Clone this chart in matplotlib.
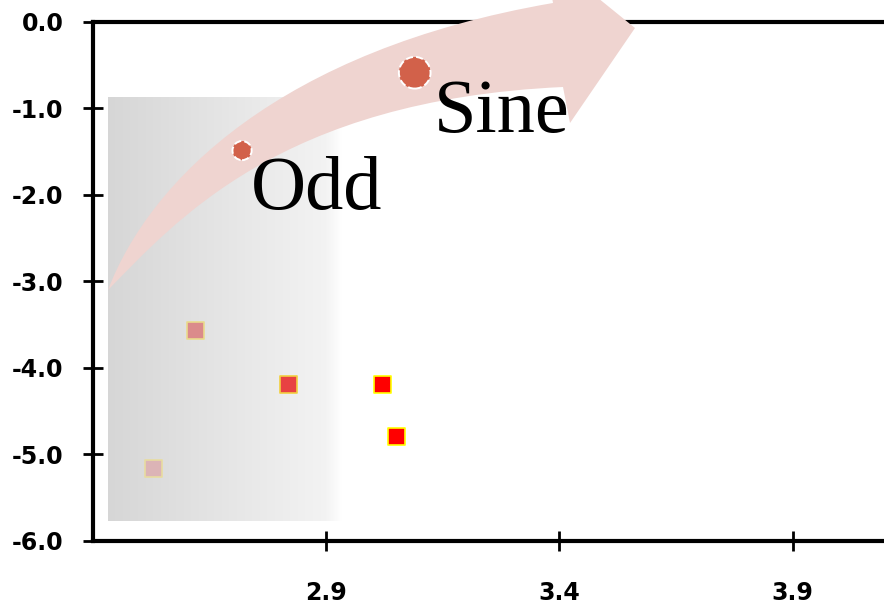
import numpy as np
import matplotlib
matplotlib.use('Agg')
import matplotlib.pyplot as plt
from matplotlib.path import Path
from matplotlib.patches import PathPatch

# %%
# values
square_x = [2.53, 2.62, 2.82, 3.02, 3.05]
square_y = [-5.16, -3.57, -4.19, -4.19, -4.79]
circle_x = [2.72, 3.09]
circle_y = [-1.49, -0.59]
label_text = ['Odd', 'Sine']
label_x = [2.738, 3.132]
label_y = [-2.17, -1.28]
xtick_vals = [2.9, 3.4, 3.9]
ytick_vals = [0.0, -1.0, -2.0, -3.0, -4.0, -5.0, -6.0]

# styles
square_face = ['#dcb4b6', '#db8b8b', '#e84242', '#ff0000', '#ff0000']
square_edge = ['#e8dca0', '#eadb8c', '#f2d040', '#ffff00', '#ffff00']
circle_size = [190, 520]

W, H = 884, 608
fig = plt.figure(figsize=(W / 100, H / 100), dpi=100)
ax = fig.add_axes([92.7 / W, (H - 540.7) / H, 1.0, (540.7 - 21.7) / H])
ax.set_xlim(2.4, 2.4 + W / 466.7)
ax.set_ylim(-6.0, 0.0)

# gray gradient box behind the points
grad = np.concatenate([np.linspace(0.84, 0.95, 90), np.linspace(0.95, 1.0, 8)])
img = np.dstack([grad, grad, grad]).repeat(2, axis=0)
ax.imshow(img, extent=(2.433, 2.936, -5.777, -0.882), aspect='auto',
          interpolation='bilinear', zorder=1)

# curved arrow (pixel coords of the picture -> figure fraction)
def px(x, y):
    return (x / W, 1 - y / H)

verts = [px(108, 290), px(150, 180), px(280, 50), px(553, 3),
         px(545, -45), px(635, 28), px(570, 123), px(563, 87),
         px(280, 100), px(175, 222), px(108, 290), px(108, 290)]
codes = [Path.MOVETO, Path.CURVE4, Path.CURVE4, Path.CURVE4,
         Path.LINETO, Path.LINETO, Path.LINETO, Path.LINETO,
         Path.CURVE4, Path.CURVE4, Path.CURVE4, Path.CLOSEPOLY]
arrow = PathPatch(Path(verts, codes), facecolor='#efd4d0', edgecolor='none',
                  transform=fig.transFigure, clip_on=False, zorder=3)
ax.add_patch(arrow)

ax.scatter(square_x, square_y, marker='s', s=150, c=square_face,
           edgecolors=square_edge, linewidths=1.2, zorder=2)
ax.scatter(circle_x, circle_y, s=circle_size, c='#d2614a', edgecolors='white',
           linewidths=1.4, linestyles='--', zorder=4)

for t, x, y in zip(label_text, label_x, label_y):
    ax.text(x, y, t, fontsize=55, family='Liberation Serif', color='black',
            ha='left', va='baseline', zorder=5)

for side in ['left', 'top', 'bottom', 'right']:
    ax.spines[side].set_linewidth(3)
ax.set_xticks(xtick_vals)
ax.set_xticklabels([f'{v:.1f}' for v in xtick_vals])
ax.set_yticks(ytick_vals)
ax.set_yticklabels([f'{v:.1f}' for v in ytick_vals])
ax.tick_params(direction='inout', length=14, width=2)
ax.tick_params(axis='x', pad=22)
ax.tick_params(axis='y', pad=14)
for lab in ax.get_xticklabels() + ax.get_yticklabels():
    lab.set_fontfamily('DejaVu Sans')
    lab.set_fontweight('bold')
    lab.set_fontsize(17)

fig.savefig('out.png', dpi=100)
